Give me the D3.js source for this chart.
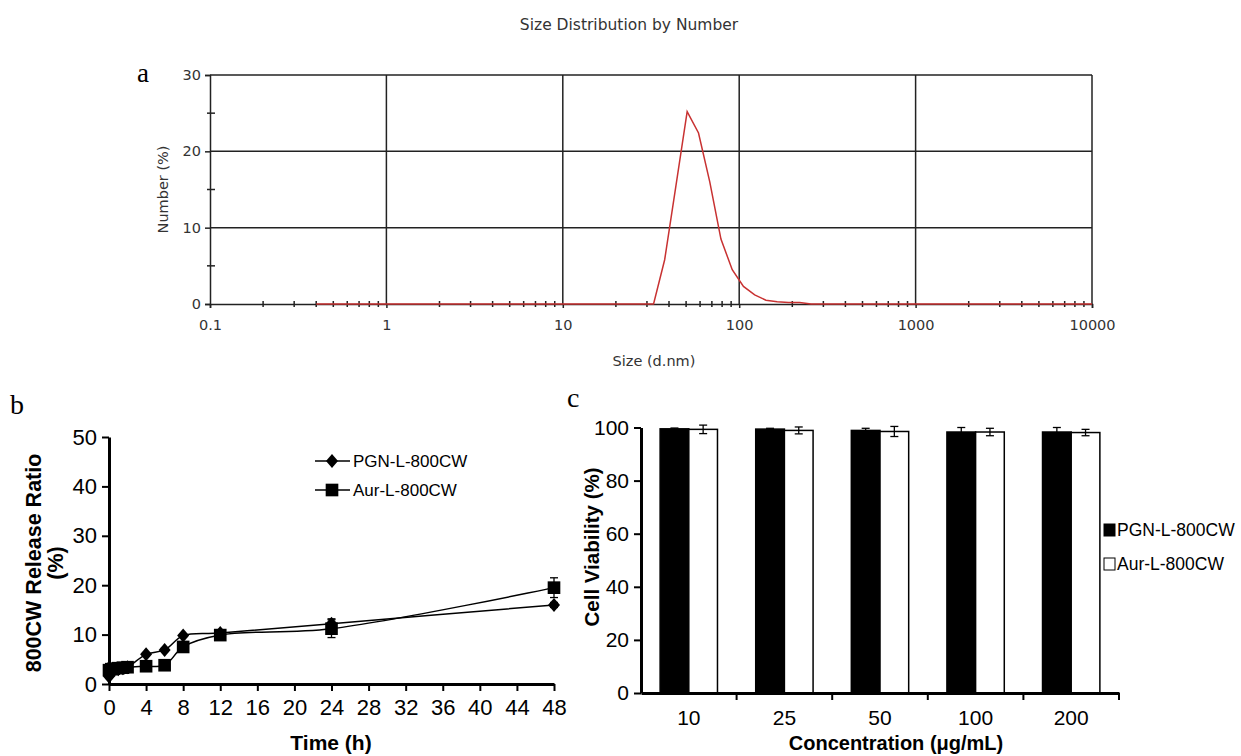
<!DOCTYPE html>
<html>
<head>
<meta charset="utf-8">
<script src="https://cdn.jsdelivr.net/npm/d3@7"></script>
<style>
  body { margin: 0; background: #fff; }
  svg { display: block; }
</style>
</head>
<body>
<svg id="chart" width="1241" height="756"></svg>
<script>
// --- panel a: size distribution by number (DLS)
const dlsSize = [0.4, 32.7, 37.8, 43.8, 50.7, 58.8, 68.1, 78.8, 91.3, 105.7, 122.4, 141.8, 164.2, 190.1, 220.2, 255.0, 10000];
const dlsNumber = [0, 0, 5.8, 15.5, 25.2, 22.4, 16.0, 8.5, 4.5, 2.3, 1.2, 0.5, 0.3, 0.2, 0.2, 0, 0];
const sizeTicks = [0.1, 1, 10, 100, 1000, 10000];
const numberTicks = [0, 10, 20, 30];
const numberMinor = [5, 15, 25];

// --- panel b: 800CW release over time
const hours = [0, 0.25, 0.5, 1, 1.5, 2, 4, 6, 8, 12, 24, 48];
const pgnRelease = [1.5, 2.3, 2.8, 3.0, 3.2, 3.4, 6.0, 6.9, 9.8, 10.3, 12.2, 16.0];
const pgnReleaseErr = [0.3, 0.3, 0.3, 0.3, 0.3, 0.3, 0.3, 0.3, 0.3, 0.4, 1.0, 0.5];
const aurRelease = [2.8, 3.0, 3.1, 3.2, 3.3, 3.4, 3.6, 3.8, 7.5, 9.9, 11.2, 19.5];
const aurReleaseErr = [0.3, 0.3, 0.3, 0.3, 0.3, 0.3, 0.3, 0.3, 0.4, 0.5, 1.8, 2.0];
const timeTicks = [0, 4, 8, 12, 16, 20, 24, 28, 32, 36, 40, 44, 48];
const releaseTicks = [0, 10, 20, 30, 40, 50];

// --- panel c: cell viability
const concentrations = ['10', '25', '50', '100', '200'];
const pgnViability = [99.5, 99.4, 98.9, 98.3, 98.3];
const pgnViabilityErr = [0.3, 0.3, 0.8, 1.7, 1.7];
const aurViability = [99.3, 98.9, 98.5, 98.3, 98.1];
const aurViabilityErr = [1.6, 1.3, 1.9, 1.4, 1.2];
const viabilityTicks = [0, 20, 40, 60, 80, 100];

const seriesNames = ['PGN-L-800CW', 'Aur-L-800CW'];

const svg = d3.select('#chart');
const sans = 'Arial, "Liberation Sans", sans-serif';
const wide = '"DejaVu Sans", Verdana, sans-serif';
const serif = '"Times New Roman", "Liberation Serif", serif';

// ================= panel a =================
const xA = d3.scaleLog().domain([0.1, 10000]).range([210, 1092]);
const yA = d3.scaleLinear().domain([0, 30]).range([304, 75]);
const gA = svg.append('g');

svg.append('text')
  .attr('x', 629).attr('y', 30)
  .attr('text-anchor', 'middle')
  .attr('font-family', wide).attr('font-size', 15.5)
  .attr('fill', '#333')
  .text('Size Distribution by Number');

svg.append('text')
  .attr('x', 137).attr('y', 82)
  .attr('font-family', serif).attr('font-size', 27)
  .text('a');

// grid lines
gA.append('g')
  .selectAll('line')
  .data(numberTicks.slice(1))
  .join('line')
  .attr('x1', xA.range()[0]).attr('x2', xA.range()[1])
  .attr('y1', d => yA(d)).attr('y2', d => yA(d))
  .attr('stroke', '#222').attr('stroke-width', 1.5);

gA.append('g')
  .selectAll('line')
  .data(sizeTicks.slice(1))
  .join('line')
  .attr('x1', d => xA(d)).attr('x2', d => xA(d))
  .attr('y1', yA(0)).attr('y2', yA(30))
  .attr('stroke', '#222').attr('stroke-width', 1.5);

// axes
const axAx = gA.append('g')
  .attr('transform', `translate(0,${yA(0)})`)
  .call(d3.axisBottom(xA).tickValues(sizeTicks).tickFormat(d3.format('~g')).tickSize(4).tickPadding(12));
axAx.select('.domain').attr('stroke', '#222').attr('stroke-width', 1.5);
axAx.selectAll('.tick line').attr('stroke', '#222').attr('stroke-width', 1.5);
axAx.selectAll('text').attr('font-family', wide).attr('font-size', 14.5).attr('fill', '#333');

const axAy = gA.append('g')
  .attr('transform', `translate(${xA(0.1)},0)`)
  .call(d3.axisLeft(yA).tickValues(numberTicks).tickSize(5).tickPadding(4));
axAy.select('.domain').attr('stroke', '#222').attr('stroke-width', 1.5);
axAy.selectAll('.tick line').attr('stroke', '#222').attr('stroke-width', 1.5);
axAy.selectAll('text').attr('font-family', wide).attr('font-size', 14.5).attr('fill', '#333');

// minor ticks
const minorX = xA.ticks().filter(d => Math.abs(Math.log10(d) - Math.round(Math.log10(d))) > 1e-6);
gA.append('g')
  .selectAll('line')
  .data(minorX)
  .join('line')
  .attr('x1', d => xA(d)).attr('x2', d => xA(d))
  .attr('y1', yA(0) - 3).attr('y2', yA(0) + 3)
  .attr('stroke', '#222').attr('stroke-width', 1.5);

gA.append('g')
  .selectAll('line')
  .data(numberMinor)
  .join('line')
  .attr('x1', xA(0.1) - 3).attr('x2', xA(0.1) + 5)
  .attr('y1', d => yA(d)).attr('y2', d => yA(d))
  .attr('stroke', '#222').attr('stroke-width', 1.5);

svg.append('text')
  .attr('transform', `translate(168,${yA(15)}) rotate(-90)`)
  .attr('text-anchor', 'middle')
  .attr('font-family', wide).attr('font-size', 14.5).attr('fill', '#333')
  .text('Number (%)');

svg.append('text')
  .attr('x', 654).attr('y', 366)
  .attr('text-anchor', 'middle')
  .attr('font-family', wide).attr('font-size', 14.5).attr('fill', '#333')
  .text('Size (d.nm)');

const dls = dlsSize.map((s, i) => ({ s, v: dlsNumber[i] }));
gA.append('path')
  .datum(dls)
  .attr('fill', 'none')
  .attr('stroke', '#c83232')
  .attr('stroke-width', 1.5)
  .attr('d', d3.line().x(d => xA(d.s)).y(d => yA(d.v)));

// ================= panel b =================
const xB = d3.scaleLinear().domain([0, 48]).range([109, 554]);
const yB = d3.scaleLinear().domain([0, 50]).range([684, 437]);
const gB = svg.append('g');

svg.append('text')
  .attr('x', 10).attr('y', 414)
  .attr('font-family', serif).attr('font-size', 28)
  .text('b');

const axBx = gB.append('g')
  .attr('transform', `translate(0,${yB(0)})`)
  .call(d3.axisBottom(xB).tickValues(timeTicks).tickSize(7).tickPadding(8).tickSizeOuter(0));
const axBy = gB.append('g')
  .attr('transform', `translate(${xB(0)},0)`)
  .call(d3.axisLeft(yB).tickValues(releaseTicks).tickSize(7).tickPadding(5).tickSizeOuter(0));
[axBx, axBy].forEach(ax => {
  ax.select('.domain').attr('stroke', '#000').attr('stroke-width', 3);
  ax.selectAll('.tick line').attr('stroke', '#000').attr('stroke-width', 2);
  ax.selectAll('text').attr('font-family', sans).attr('font-size', 22).attr('fill', '#000');
});

svg.append('text')
  .attr('x', 331).attr('y', 750)
  .attr('text-anchor', 'middle')
  .attr('font-family', sans).attr('font-size', 21).attr('font-weight', 'bold')
  .text('Time (h)');

const yLab = svg.append('text')
  .attr('transform', `translate(0,${yB(24.5)}) rotate(-90)`)
  .attr('text-anchor', 'middle')
  .attr('font-family', sans).attr('font-size', 21.5).attr('font-weight', 'bold');
yLab.append('tspan').attr('x', 0).attr('y', 41).text('800CW Release Ratio');
yLab.append('tspan').attr('x', 0).attr('y', 63).text('(%)');

const diamondPath = 'M0,-7L6,0L0,7L-6,0Z';
const squarePath = d3.symbol(d3.symbolSquare, 160)();

const releaseSeries = [
  { name: seriesNames[0], vals: pgnRelease, err: pgnReleaseErr, marker: diamondPath },
  { name: seriesNames[1], vals: aurRelease, err: aurReleaseErr, marker: squarePath }
];
const lineB = d3.line().x(d => xB(d.t)).y(d => yB(d.v)).curve(d3.curveCatmullRom.alpha(0.5));

releaseSeries.forEach(s => {
  const pts = hours.map((t, i) => ({ t, v: s.vals[i], e: s.err[i] }));
  const g = gB.append('g');
  g.append('path')
    .datum(pts)
    .attr('fill', 'none').attr('stroke', '#000').attr('stroke-width', 1.5)
    .attr('d', lineB);
  const eb = g.append('g').selectAll('g').data(pts).join('g');
  eb.append('line')
    .attr('x1', d => xB(d.t)).attr('x2', d => xB(d.t))
    .attr('y1', d => yB(d.v - d.e)).attr('y2', d => yB(d.v + d.e))
    .attr('stroke', '#000').attr('stroke-width', 1.3);
  eb.selectAll('.cap')
    .data(d => [d.v - d.e, d.v + d.e].map(v => ({ t: d.t, v })))
    .join('line')
    .attr('class', 'cap')
    .attr('x1', d => xB(d.t) - 4).attr('x2', d => xB(d.t) + 4)
    .attr('y1', d => yB(d.v)).attr('y2', d => yB(d.v))
    .attr('stroke', '#000').attr('stroke-width', 1.3);
  g.append('g').selectAll('path')
    .data(pts)
    .join('path')
    .attr('d', s.marker)
    .attr('transform', d => `translate(${xB(d.t)},${yB(d.v)})`)
    .attr('fill', '#000');
});

// legend b
const legB = gB.append('g');
releaseSeries.forEach((s, i) => {
  const y = 461 + i * 29;
  legB.append('line')
    .attr('x1', 315).attr('x2', 350).attr('y1', y).attr('y2', y)
    .attr('stroke', '#000').attr('stroke-width', 1.5);
  legB.append('path')
    .attr('d', s.marker)
    .attr('transform', `translate(332,${y})`)
    .attr('fill', '#000');
  legB.append('text')
    .attr('x', 353).attr('y', y + 6)
    .attr('font-family', sans).attr('font-size', 17)
    .text(s.name);
});

// ================= panel c =================
const xC = d3.scaleBand().domain(concentrations).range([641, 1119]).paddingInner(0.4).paddingOuter(0.2);
const xSub = d3.scaleBand().domain(seriesNames).range([0, xC.bandwidth()]);
const yC = d3.scaleLinear().domain([0, 100]).range([693, 427.5]);
const gC = svg.append('g');

svg.append('text')
  .attr('x', 567).attr('y', 407)
  .attr('font-family', serif).attr('font-size', 28)
  .text('c');

const viab = concentrations.map((c, i) => [
  { c, name: seriesNames[0], v: pgnViability[i], e: pgnViabilityErr[i], fill: '#000' },
  { c, name: seriesNames[1], v: aurViability[i], e: aurViabilityErr[i], fill: '#fff' }
]).flat();

gC.append('g').selectAll('rect')
  .data(viab)
  .join('rect')
  .attr('x', d => xC(d.c) + xSub(d.name))
  .attr('width', xSub.bandwidth())
  .attr('y', d => yC(d.v))
  .attr('height', d => yC(0) - yC(d.v))
  .attr('fill', d => d.fill)
  .attr('stroke', '#000').attr('stroke-width', 1.5);

const ebC = gC.append('g').selectAll('g').data(viab).join('g');
ebC.append('line')
  .attr('x1', d => xC(d.c) + xSub(d.name) + xSub.bandwidth() / 2)
  .attr('x2', d => xC(d.c) + xSub(d.name) + xSub.bandwidth() / 2)
  .attr('y1', d => yC(d.v - d.e)).attr('y2', d => yC(d.v + d.e))
  .attr('stroke', '#000').attr('stroke-width', 1.3);
ebC.selectAll('.cap')
  .data(d => [d.v - d.e, d.v + d.e].map(v => ({ cx: xC(d.c) + xSub(d.name) + xSub.bandwidth() / 2, v })))
  .join('line')
  .attr('class', 'cap')
  .attr('x1', d => d.cx - 4).attr('x2', d => d.cx + 4)
  .attr('y1', d => yC(d.v)).attr('y2', d => yC(d.v))
  .attr('stroke', '#000').attr('stroke-width', 1.3);

const axCx = gC.append('g')
  .attr('transform', `translate(0,${yC(0)})`)
  .call(d3.axisBottom(xC).tickSize(0).tickPadding(17));
axCx.select('.domain').attr('stroke', '#000').attr('stroke-width', 3);
axCx.selectAll('text').attr('font-family', sans).attr('font-size', 21).attr('fill', '#000');
// category boundary ticks
gC.append('g').selectAll('line')
  .data(concentrations)
  .join('line')
  .attr('x1', d => xC(d) - xC.step() * xC.paddingInner() / 2 + xC.step())
  .attr('x2', d => xC(d) - xC.step() * xC.paddingInner() / 2 + xC.step())
  .attr('y1', yC(0)).attr('y2', yC(0) + 7)
  .attr('stroke', '#000').attr('stroke-width', 2);

const axCy = gC.append('g')
  .attr('transform', `translate(${xC.range()[0]},0)`)
  .call(d3.axisLeft(yC).tickValues(viabilityTicks).tickSize(7).tickPadding(5).tickSizeOuter(0));
axCy.select('.domain').attr('stroke', '#000').attr('stroke-width', 3);
axCy.selectAll('.tick line').attr('stroke', '#000').attr('stroke-width', 2);
axCy.selectAll('text').attr('font-family', sans).attr('font-size', 21).attr('fill', '#000');

svg.append('text')
  .attr('transform', `translate(599,${yC(55)}) rotate(-90)`)
  .attr('text-anchor', 'middle')
  .attr('font-family', sans).attr('font-size', 20.5).attr('font-weight', 'bold')
  .text('Cell Viability (%)');

svg.append('text')
  .attr('x', 896).attr('y', 750)
  .attr('text-anchor', 'middle')
  .attr('font-family', sans).attr('font-size', 20).attr('font-weight', 'bold')
  .text('Concentration (μg/mL)');

// legend c
const legC = gC.append('g');
seriesNames.forEach((name, i) => {
  const y = 530 + i * 34;
  legC.append('rect')
    .attr('x', 1104).attr('y', y - 6).attr('width', 11).attr('height', 12)
    .attr('fill', i === 0 ? '#000' : '#fff')
    .attr('stroke', '#000').attr('stroke-width', 1);
  legC.append('text')
    .attr('x', 1117).attr('y', y + 6)
    .attr('font-family', sans).attr('font-size', 17.5)
    .text(name);
});
</script>
</body>
</html>
